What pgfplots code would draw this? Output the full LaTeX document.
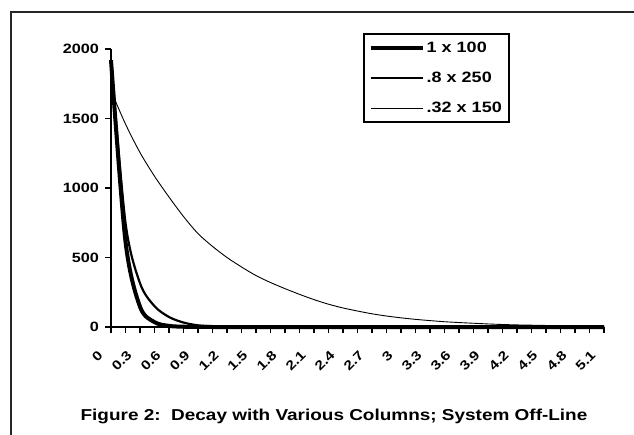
\documentclass[border=0pt]{standalone}
\usepackage{pgfplots}
\pgfplotsset{compat=1.18}
\usepackage{pgfplotstable}
\usepackage{fontspec}
\setmainfont{Liberation Sans}
\newfontfamily\chartfont{Liberation Sans}[FakeStretch=1.2]

\pgfplotstableread{
x     thick  medium  thin
0     1920   1920    1700
0.15  615    750     1460
0.3   146    315     1255
0.45  35     150     1085
0.6   8      72      935
0.75  2      32      795
0.9   0.5    12      672
1.05  0      5       580
1.2   0      2       500
1.35  0      1       432
1.5   0      0       370
1.65  0      0       320
1.8   0      0       276
1.95  0      0       235
2.1   0      0       197
2.25  0      0       164
2.4   0      0       137
2.55  0      0       115
2.7   0      0       95
2.85  0      0       79
3     0      0       66
3.15  0      0       55
3.3   0      0       46
3.45  0      0       38
3.6   0      0       32
3.75  0      0       27
3.9   0      0       22
4.05  0      0       18
4.2   0      0       15
4.35  0      0       13
4.5   0      0       11
4.65  0      0       9
4.8   0      0       7
4.95  0      0       6
5.1   0      0       5
}\decaydata

\begin{document}
\begin{tikzpicture}[x=1pt,y=1pt]
\useasboundingbox (0,0) rectangle (634,434);
\draw[line width=1.3pt, black!85] (11,-20) -- (11,422) -- (660,422);
\begin{axis}[
  at={(111pt,107pt)}, anchor=south west,
  scale only axis, width=493pt, height=278pt,
  xmin=0, xmax=5.1, ymin=0, ymax=2000,
  axis x line=bottom, axis y line=left,
  axis line style={-, line width=2pt, black},
  tick style={line width=1.6pt, black},
  tick align=outside, major tick length=6pt,
  xtick={0,0.15,0.3,0.45,0.6,0.75,0.9,1.05,1.2,1.35,1.5,1.65,1.8,1.95,2.1,2.25,2.4,2.55,2.7,2.85,3,3.15,3.3,3.45,3.6,3.75,3.9,4.05,4.2,4.35,4.5,4.65,4.8,4.95,5.1},
  xticklabels={0,,0.3,,0.6,,0.9,,1.2,,1.5,,1.8,,2.1,,2.4,,2.7,,3,,3.3,,3.6,,3.9,,4.2,,4.5,,4.8,,5.1},
  xticklabel style={xshift=-14pt, yshift=-15pt, rotate=45, anchor=north east, font=\fontsize{13}{15}\selectfont\chartfont\bfseries, inner sep=1pt},
  ytick={0,500,1000,1500,2000},
  yticklabels={0,500,1000,1500,2000},
  yticklabel style={font=\fontsize{13.5}{15}\selectfont\chartfont\bfseries, anchor=east, inner sep=0pt, xshift=-6pt},
  clip=false,
  legend style={at={(axis description cs:0.5106,1.0565)}, anchor=north west,
    draw=black, line width=2pt, fill=white,
    font=\fontsize{15}{17}\selectfont\chartfont\bfseries,
    inner xsep=5pt, inner ysep=6pt, row sep=14pt,
    nodes={inner sep=2pt}},
  legend cell align=left,
  legend image code/.code={\draw[#1] (0pt,0pt) -- (52pt,0pt);},
]
\addplot[line width=4pt, black, smooth, line join=round] table[x=x, y=thick] {\decaydata};
\addlegendentry{1 x 100}
\addplot[line width=2.2pt, black, smooth, line join=round] table[x=x, y=medium] {\decaydata};
\addlegendentry{.8 x 250}
\addplot[line width=0.9pt, black, smooth, line join=round] table[x=x, y=thin] {\decaydata};
\addlegendentry{.32 x 150}
\end{axis}
\node[anchor=base, font=\fontsize{15.8}{18}\selectfont\chartfont\bfseries] at (334,14) {Figure 2:\ \ Decay with Various Columns; System Off-Line};
\end{tikzpicture}
\end{document}
